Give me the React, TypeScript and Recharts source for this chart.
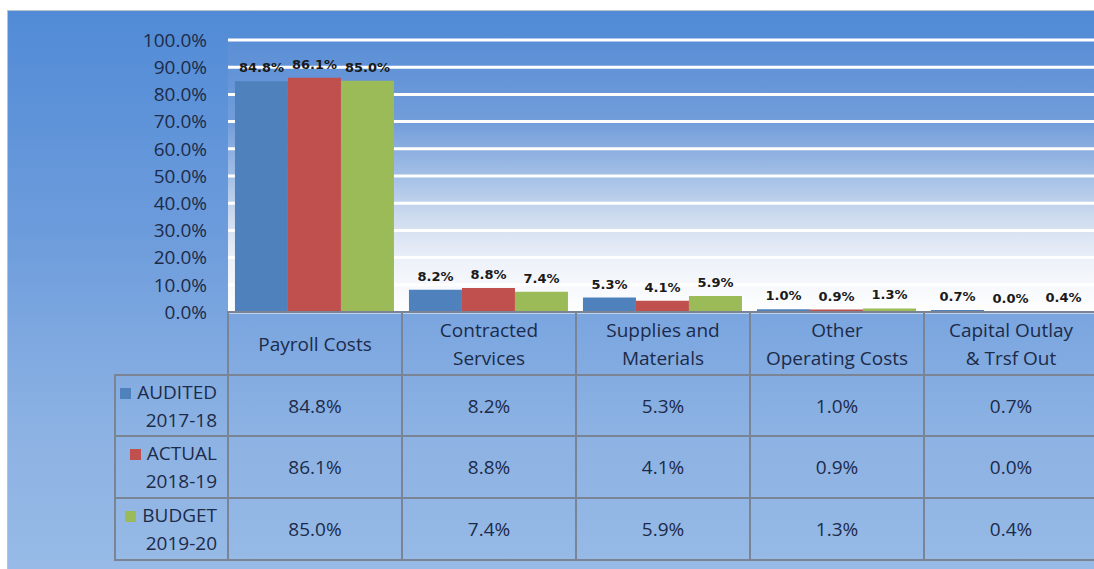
import { Bar, BarChart, CartesianGrid, LabelList, XAxis, YAxis } from 'recharts'

const categories = [
  'Payroll Costs',
  'Contracted\nServices',
  'Supplies and\nMaterials',
  'Other\nOperating Costs',
  'Capital Outlay\n& Trsf Out',
]
const audited = [84.8, 8.2, 5.3, 1.0, 0.7]
const actual = [86.1, 8.8, 4.1, 0.9, 0.0]
const budget = [85.0, 7.4, 5.9, 1.3, 0.4]
const yTicks = [0, 10, 20, 30, 40, 50, 60, 70, 80, 90, 100]

const SERIES = [
  { key: 'audited', name: 'AUDITED', year: '2017-18', color: '#4f81bd', values: audited },
  { key: 'actual', name: 'ACTUAL', year: '2018-19', color: '#c0504d', values: actual },
  { key: 'budget', name: 'BUDGET', year: '2019-20', color: '#9bbb59', values: budget },
]

const data = categories.map((c, i) => ({
  name: c,
  audited: audited[i],
  actual: actual[i],
  budget: budget[i],
}))

const FONT = "'Open Sans', sans-serif"
const TEXT = '#1c2b4a'
const BORDER = '#7b8494'
const PLOT_LEFT = 228
const PLOT_TOP = 40
const PLOT_BOTTOM = 312
const HEADER_H = 63
const CHART_W = 1100
const CHART_H = 569
const COL_W = 174
const LEGEND_W = 113
const ROW_H = [61, 62, 62]

const fmt = (v: number) => `${v.toFixed(1)}%`

function HeaderTick(props: any) {
  const { x, payload } = props
  const lines = String(payload.value).split('\n')
  const mid = PLOT_BOTTOM + HEADER_H / 2
  const start = mid - ((lines.length - 1) * 28) / 2
  return (
    <text x={x} textAnchor="middle" fill={TEXT} fontFamily={FONT} fontSize={19}>
      {lines.map((l, i) => (
        <tspan key={i} x={x} y={start + i * 28} dominantBaseline="central">
          {l}
        </tspan>
      ))}
    </text>
  )
}

// value label above each bar, drawn even when the bar has no height
function TopLabel(props: any) {
  const { x, y, width, value } = props
  return (
    <text
      x={x + width / 2}
      y={y - 9}
      textAnchor="middle"
      fill="#1a1a1a"
      fontFamily="'DejaVu Sans', sans-serif"
      fontWeight="bold"
      fontSize={13}
    >
      {fmt(Number(value))}
    </text>
  )
}

export default function App() {
  const cellStyle = {
    border: `2px solid ${BORDER}`,
    textAlign: 'center' as const,
    color: TEXT,
    fontFamily: FONT,
    fontSize: 19,
    padding: 0,
  }

  return (
    <div
      style={{
        position: 'fixed',
        left: 0,
        top: 0,
        width: 1094,
        height: 569,
        overflow: 'hidden',
        background: '#ffffff',
      }}
    >
      <div
        style={{
          position: 'absolute',
          left: 7,
          top: 10,
          right: 0,
          bottom: 0,
          borderTop: '1px solid #b9c3cf',
          borderLeft: '1px solid #b9c3cf',
          background: 'linear-gradient(180deg, #518bd6 0%, #6d9cdc 40%, #8cb2e3 75%, #97bae6 100%)',
        }}
      />
      <div style={{ position: 'absolute', left: 0, top: 0 }}>
        <BarChart
          width={CHART_W}
          height={CHART_H}
          data={data}
          margin={{ top: PLOT_TOP, right: CHART_W - PLOT_LEFT - COL_W * 5, left: 0, bottom: CHART_H - PLOT_BOTTOM - HEADER_H }}
          barCategoryGap="4%"
          barGap={0}
        >
          <defs>
            <linearGradient id="plotBg" x1="0" y1="0" x2="0" y2="1">
              <stop offset="0%" stopColor="#5a8ed6" />
              <stop offset="30%" stopColor="#729dda" />
              <stop offset="50%" stopColor="#a3bfe6" />
              <stop offset="65%" stopColor="#cddbef" />
              <stop offset="82%" stopColor="#eef2f9" />
              <stop offset="100%" stopColor="#ffffff" />
            </linearGradient>
          </defs>
          <CartesianGrid
            vertical={false}
            stroke="#ffffff"
            strokeWidth={3}
            fill="url(#plotBg)"
            fillOpacity={1}
          />
          <XAxis
            dataKey="name"
            height={HEADER_H}
            axisLine={false}
            tickLine={false}
            interval={0}
            tick={<HeaderTick />}
          />
          <YAxis
            width={PLOT_LEFT}
            domain={[0, 100]}
            ticks={yTicks}
            interval={0}
            axisLine={false}
            tickLine={false}
            tickMargin={15}
            tickFormatter={fmt}
            tick={{ fill: TEXT, fontFamily: FONT, fontSize: 19 }}
          />
          {SERIES.map((s) => (
            <Bar key={s.key} dataKey={s.key} fill={s.color} minPointSize={0.3} isAnimationActive={false}>
              <LabelList dataKey={s.key} content={<TopLabel />} />
            </Bar>
          ))}
        </BarChart>
      </div>
      <table
        style={{
          position: 'absolute',
          left: 114,
          top: PLOT_BOTTOM - 1,
          borderCollapse: 'collapse',
          tableLayout: 'fixed',
          width: LEGEND_W + COL_W * 5,
        }}
      >
        <colgroup>
          <col style={{ width: LEGEND_W }} />
          {categories.map((c) => (
            <col key={c} style={{ width: COL_W }} />
          ))}
        </colgroup>
        <tbody>
          <tr style={{ height: HEADER_H }}>
            <td style={{ ...cellStyle, borderTop: 'none', borderLeft: 'none' }} />
            {categories.map((c) => (
              <td key={c} style={cellStyle} />
            ))}
          </tr>
          {SERIES.map((s, r) => (
            <tr key={s.key} style={{ height: ROW_H[r] }}>
              <td style={{ ...cellStyle, textAlign: 'right', paddingRight: 10, lineHeight: '28px' }}>
                <span
                  style={{
                    display: 'inline-block',
                    width: 11,
                    height: 11,
                    background: s.color,
                    marginRight: 6,
                  }}
                />
                {s.name}
                <br />
                {s.year}
              </td>
              {s.values.map((v, i) => (
                <td key={i} style={cellStyle}>
                  {fmt(v)}
                </td>
              ))}
            </tr>
          ))}
        </tbody>
      </table>
    </div>
  )
}
